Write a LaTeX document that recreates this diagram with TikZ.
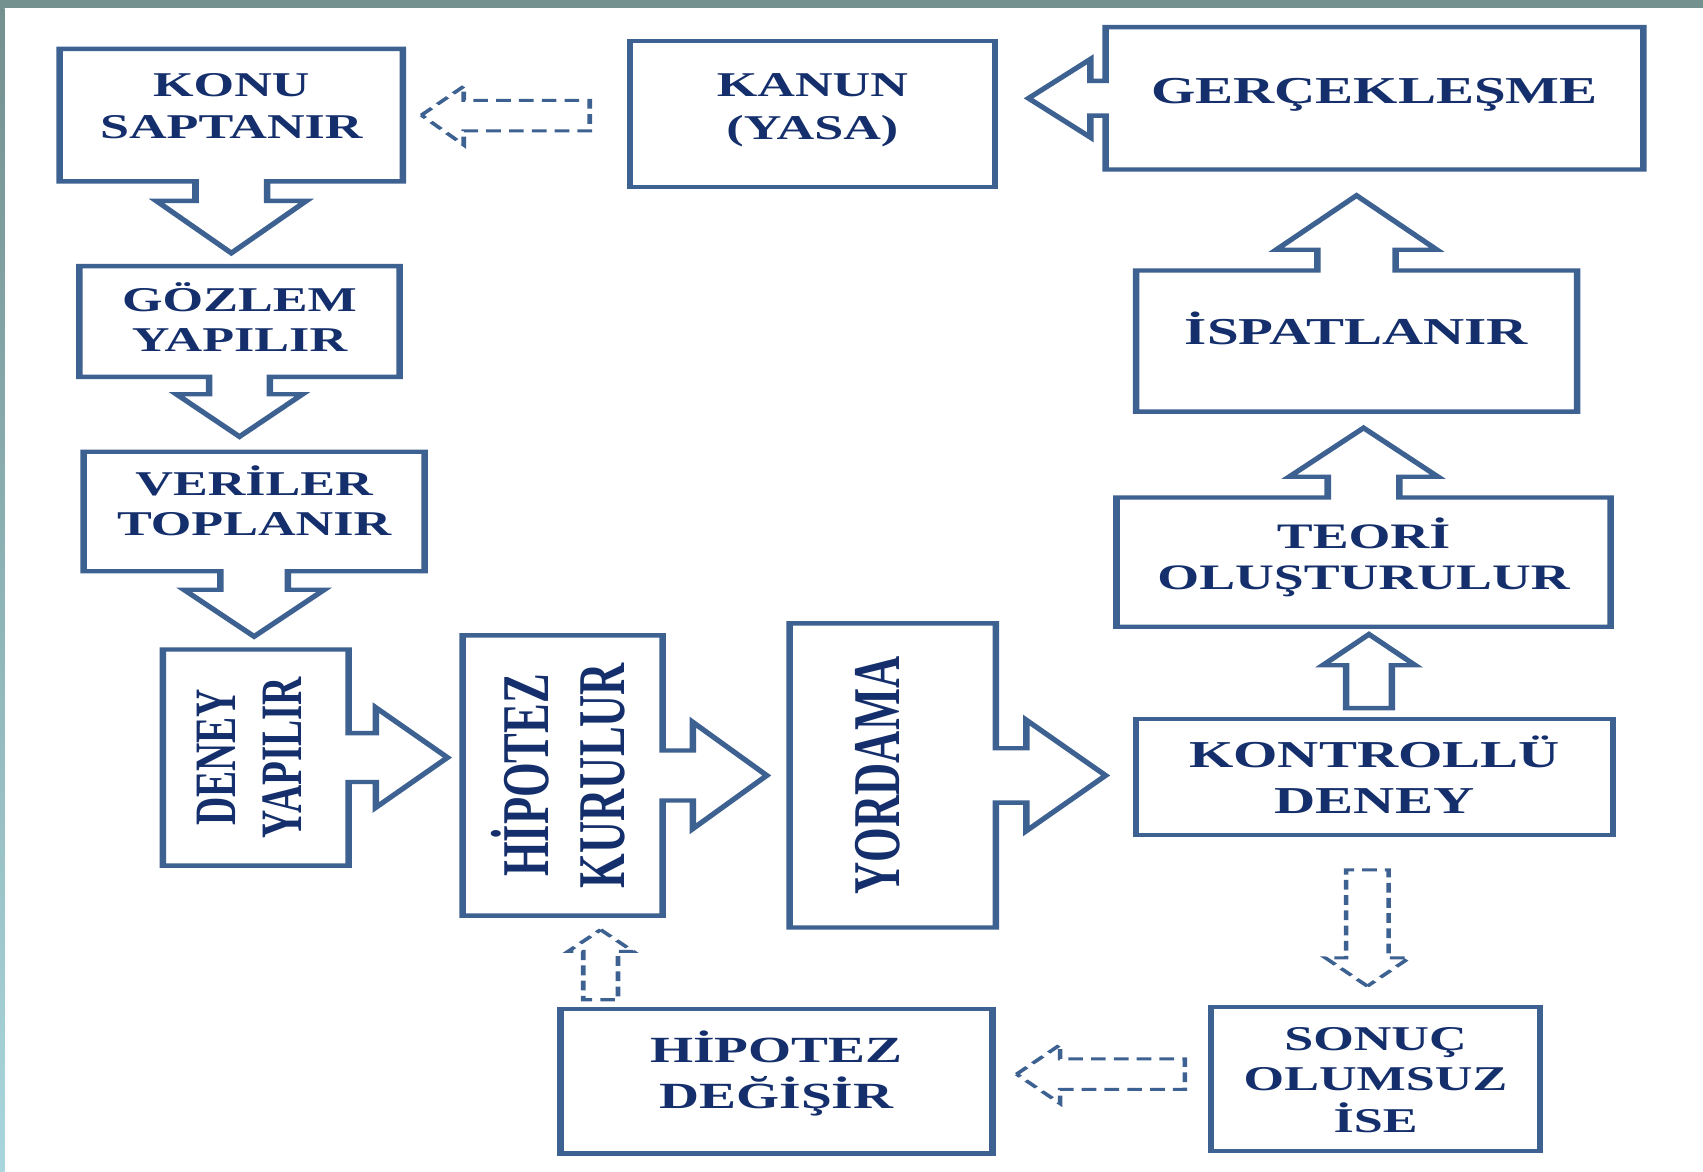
\documentclass[tikz,border=0pt]{standalone}
\usepackage{fontspec}
\setmainfont{Liberation Serif}
\usepackage{graphicx}
\usetikzlibrary{calc}

\definecolor{cerceve}{HTML}{3D6190}
\definecolor{lacivert}{HTML}{142F6B}
\definecolor{serit}{HTML}{74908F}
\definecolor{seritalt}{HTML}{A9D6DD}

\begin{document}
\begin{tikzpicture}[x=0.5pt, y=-0.5pt,
    kutu/.style={draw=cerceve, line width=2pt, rectangle, inner sep=0pt,
        outer sep=0pt, text=lacivert},
    cerceveli/.style={kutu, draw=none},
    hat/.style={draw=cerceve, line width=2pt},
    kesik/.style={draw=cerceve, line width=1.4pt, dash pattern=on 4.5pt off 2.5pt},
    yazi/.style 2 args={font=\fontsize{#1}{#2}\selectfont\bfseries}
]

    \useasboundingbox (0,0) rectangle (1568,1079);
    \fill[serit] (0,0) rectangle (1568,7.5);
    \shade[top color=serit, bottom color=seritalt] (0,7.5) rectangle (4.3,1079);

\begin{scope}[x=0.33333pt, transform canvas={xscale=1.5}]

    % konu saptanir
    \node[cerceveli, yazi={16}{19.5},
        minimum width=105.33pt,
        minimum height=61pt
    ] (konu) at (213,106) {\begin{tabular}{@{}c@{}}KONU\\SAPTANIR\\[5.7pt]\end{tabular}};

    \draw[hat] (konu.north west) -- (konu.north east) -- (konu.south east)
        -- ($(konu.south)+(33,0)$) -- ++(0,18) -- ++(36,0)
        -- ($(konu.south)+(0,66)$) -- ($(konu.south)+(-69,18)$) -- ++(36,0)
        -- ($(konu.south)+(-33,0)$) -- (konu.south west) -- cycle;

    % gozlem
    \node[cerceveli, yazi={16}{18.5},
        minimum width=98.33pt,
        minimum height=51pt
    ] (gozlem) at (220.5,296) {\begin{tabular}{@{}c@{}}GÖZLEM\\YAPILIR\\[-1.7pt]\end{tabular}};

    \draw[hat] (gozlem.north west) -- (gozlem.north east) -- (gozlem.south east)
        -- ($(gozlem.south)+(28,0)$) -- ++(0,16) -- ++(30,0)
        -- ($(gozlem.south)+(0,55)$) -- ($(gozlem.south)+(-58,16)$) -- ++(30,0)
        -- ($(gozlem.south)+(-28,0)$) -- (gozlem.south west) -- cycle;

    % veriler
    \node[cerceveli, yazi={16}{18.5},
        minimum width=104.67pt,
        minimum height=55pt
    ] (veriler) at (234,471) {\begin{tabular}{@{}c@{}}VERİLER\\TOPLANIR\\[4.3pt]\end{tabular}};

    \draw[hat] (veriler.north west) -- (veriler.north east) -- (veriler.south east)
        -- ($(veriler.south)+(31,0)$) -- ++(0,17) -- ++(33.5,0)
        -- ($(veriler.south)+(0,60)$) -- ($(veriler.south)+(-64.5,17)$) -- ++(33.5,0)
        -- ($(veriler.south)+(-31,0)$) -- (veriler.south west) -- cycle;

    % deney
    \node[cerceveli, yazi={18}{20.3},
        minimum width=57pt,
        minimum height=99.5pt
    ] (deney) at (235.5,697.5) {\rotatebox{90}{\begin{tabular}{@{}c@{}}DENEY\\YAPILIR\\[0.5pt]\end{tabular}}};

    \draw[hat] (deney.north east) -- (deney.north west) -- (deney.south west) -- (deney.south east)
        -- ($(deney.east)+(0,22.5)$) -- ++(25,0) -- ++(0,23.5)
        -- ($(deney.east)+(91,0)$) -- ($(deney.east)+(25,-46)$) -- ++(0,23.5)
        -- ($(deney.east)+(0,-22.5)$) -- cycle;

    % hipotez kurulur
    \node[cerceveli, yazi={20.5}{23.3},
        minimum width=61.33pt,
        minimum height=129pt
    ] (hipkur) at (518,714) {\rotatebox{90}{\begin{tabular}{@{}c@{}}HİPOTEZ\\KURULUR\\[-4.2pt]\end{tabular}}};

    \draw[hat] (hipkur.north east) -- (hipkur.north west) -- (hipkur.south west) -- (hipkur.south east)
        -- ($(hipkur.east)+(0,23)$) -- ++(28,0) -- ++(0,26)
        -- ($(hipkur.east)+(96,0)$) -- ($(hipkur.east)+(28,-49)$) -- ++(0,26)
        -- ($(hipkur.east)+(0,-23)$) -- cycle;

    % yordama
    \node[cerceveli, yazi={20.5}{24},
        minimum width=63.33pt,
        minimum height=140pt
    ] (yordama) at (822,714) {\rotatebox{90}{\begin{tabular}{@{}c@{}}YORDAMA\\[5.3pt]\end{tabular}}};

    \draw[hat] (yordama.north east) -- (yordama.north west) -- (yordama.south west) -- (yordama.south east)
        -- ($(yordama.east)+(0,25)$) -- ++(28,0) -- ++(0,26)
        -- ($(yordama.east)+(101,0)$) -- ($(yordama.east)+(28,-51)$) -- ++(0,26)
        -- ($(yordama.east)+(0,-25)$) -- cycle;

    % kontrollu deney
    \node[kutu, yazi={17.5}{21},
        minimum width=146.33pt,
        minimum height=53.5pt
    ] (kontrol) at (1265.5,715.5) {\begin{tabular}{@{}c@{}}KONTROLLÜ\\DENEY\\[-4.2pt]\end{tabular}};

    % teori
    \node[cerceveli, yazi={16.5}{19},
        minimum width=151.67pt,
        minimum height=59.5pt
    ] (teori) at (1255.5,517.5) {\begin{tabular}{@{}c@{}}TEORİ\\OLUŞTURULUR\\[2.2pt]\end{tabular}};

    \draw[hat] (teori.south west) -- (teori.south east) -- (teori.north east)
        -- ($(teori.north)+(33,0)$) -- ++(0,-19) -- ++(35.5,0)
        -- ($(teori.north)+(0,-64)$) -- ($(teori.north)+(-68.5,-19)$) -- ++(35.5,0)
        -- ($(teori.north)+(-33,0)$) -- (teori.north west) -- cycle;

    % ispatlanir
    \node[cerceveli, yazi={17.5}{21},
        minimum width=135.33pt,
        minimum height=65pt
    ] (ispat) at (1249,314) {\begin{tabular}{@{}c@{}}İSPATLANIR\\[5.8pt]\end{tabular}};

    \draw[hat] (ispat.south west) -- (ispat.south east) -- (ispat.north east)
        -- ($(ispat.north)+(36,0)$) -- ++(0,-19) -- ++(38,0)
        -- ($(ispat.north)+(0,-69)$) -- ($(ispat.north)+(-74,-19)$) -- ++(38,0)
        -- ($(ispat.north)+(-36,0)$) -- (ispat.north west) -- cycle;

    % gerceklesme
    \node[cerceveli, yazi={17.5}{21},
        minimum width=165pt,
        minimum height=65.5pt
    ] (gercek) at (1265.5,90.5) {\begin{tabular}{@{}c@{}}GERÇEKLEŞME\\[3.3pt]\end{tabular}};

    \draw[hat] (gercek.north west) -- (gercek.north east) -- (gercek.south east) -- (gercek.south west)
        -- ($(gercek.west)+(0,16)$) -- ++(-14,0) -- ++(0,20)
        -- ($(gercek.west)+(-71,0)$) -- ($(gercek.west)+(-14,-36)$) -- ++(0,20)
        -- ($(gercek.west)+(0,-16)$) -- cycle;

    % kanun
    \node[kutu, yazi={16}{20},
        minimum width=112pt,
        minimum height=67pt
    ] (kanun) at (748,105) {\begin{tabular}{@{}c@{}}KANUN\\(YASA)\\[4.4pt]\end{tabular}};

    % sonuc olumsuz ise
    \node[kutu, yazi={16}{18.3},
        minimum width=101pt,
        minimum height=66.5pt
    ] (sonuc) at (1266.5,993.5) {\begin{tabular}{@{}c@{}}SONUÇ\\OLUMSUZ\\İSE\\[-4.3pt]\end{tabular}};

    % hipotez degisir
    \node[kutu, yazi={17}{21},
        minimum width=132.67pt,
        minimum height=66.5pt
    ] (hipdeg) at (715,995.5) {\begin{tabular}{@{}c@{}}HİPOTEZ\\DEĞİŞİR\\[4.2pt]\end{tabular}};

    % kontrollu deney -> teori
    \coordinate (ok1) at ($(teori.south)!0.5!(kontrol.north)$);
    \draw[hat] ($(ok1)+(0,-35.5)$) -- ++(42.5,28.5) -- ++(-21.5,0) -- ++(0,39.5)
        -- ++(-42,0) -- ++(0,-39.5) -- ++(-21.5,0) -- cycle;

    % kesikli oklar
    \coordinate (ok2) at ($(konu.east)!0.5!(kanun.west)$);
    \draw[kesik] ($(ok2)+(-87.5,0.5)$) -- ++(39,-26.5) -- ++(0,13) -- ++(116,0)
        -- ++(0,28) -- ++(-116,0) -- ++(0,13) -- cycle;

    \coordinate (ok3) at ($(kontrol.south)!0.5!(sonuc.north)$);
    \draw[kesik] ($(ok3)+(-7,60)$) -- ++(-38.5,-26) -- ++(19,0) -- ++(0,-81)
        -- ++(39,0) -- ++(0,81) -- ++(19,0) -- cycle;

    \coordinate (ok4) at ($(hipdeg.east)!0.5!(sonuc.west)$);
    \draw[kesik] ($(ok4)+(-78.5,-5.5)$) -- ++(40,-27) -- ++(0,13) -- ++(115,0)
        -- ++(0,28) -- ++(-115,0) -- ++(0,13) -- cycle;

    \coordinate (ok5) at ($(hipkur.south)!0.5!(hipkur.south |- hipdeg.north)$);
    \draw[kesik] ($(ok5)+(35,-30)$) -- ++(30,20) -- ++(-14,0) -- ++(0,44.5)
        -- ++(-32,0) -- ++(0,-44.5) -- ++(-14,0) -- cycle;

\end{scope}
\end{tikzpicture}
\end{document}
